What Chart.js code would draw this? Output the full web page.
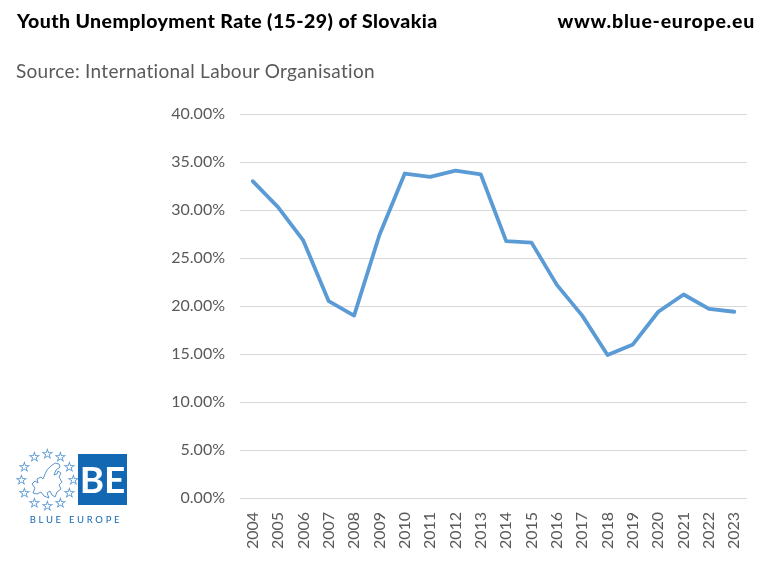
<!DOCTYPE html>
<html>
<head>
<meta charset="utf-8">
<script src="https://cdn.jsdelivr.net/npm/chart.js@4"></script>
<style>
  html, body { margin: 0; padding: 0; background: #fff; }
  #wrap { position: relative; width: 769px; height: 561px; overflow: hidden; font-family: Lato, sans-serif; }
  #chart { position: absolute; left: 0; top: 0; }
  .head { position: absolute; top: 9px; font-size: 19.5px; font-weight: 900; color: #000; white-space: nowrap; }
  #source { position: absolute; left: 16px; top: 59px; font-size: 19px; letter-spacing: 0.3px; color: #595959; white-space: nowrap; }
  #logo { position: absolute; left: 14px; top: 446px; }
</style>
</head>
<body>
<div id="wrap">
  <canvas id="chart" width="769" height="561"></canvas>
  <div class="head" style="left:17px; letter-spacing:0.42px">Youth Unemployment Rate (15-29) of Slovakia</div>
  <div class="head" style="right:14px; letter-spacing:0.75px">www.blue-europe.eu</div>
  <div id="source">Source: International Labour Organisation</div>
  <svg id="logo" width="118" height="82" viewBox="0 0 118 82">
    <g id="stars" fill="none" stroke="#5b9bd5" stroke-width="0.8" font-size="12" text-anchor="middle"></g>
    <path d="M18 38 L21 35 L24 37 L23 33 L27 31 L29 33 L31 28 L33 24 L37 20 L41 17 L45 18 L46 21 L42 24 L40 29 L43 28 L44 25 L47 27 L45 31 L48 36 L45 39 L47 43 L43 46 L41 51 L38 49 L36 45 L33 47 L35 52 L30 50 L27 46 L23 48 L19 47 L21 42 Z"
      fill="none" stroke="#4a8ac8" stroke-width="0.9"/>
    <rect x="64" y="8" width="49" height="51" fill="#1268b3"/>
    <text x="88.5" y="47" fill="#fff" font-size="37" font-weight="700" text-anchor="middle" font-family="Lato, sans-serif">BE</text>
    <text x="62" y="77" fill="#1268b3" font-size="9.5" letter-spacing="2.7" text-anchor="middle" font-family="Lato, sans-serif">BLUE EUROPE</text>
  </svg>
</div>
<script>
const years = ['2004', '2005', '2006', '2007', '2008', '2009', '2010', '2011', '2012', '2013',
  '2014', '2015', '2016', '2017', '2018', '2019', '2020', '2021', '2022', '2023'];
const unemployment = [33.0, 30.3, 26.8, 20.5, 19.0, 27.4, 33.8, 33.45, 34.1, 33.7,
  26.75, 26.6, 22.2, 19.0, 14.9, 16.0, 19.4, 21.2, 19.7, 19.4];

// ring of stars in the logo
const stars = document.getElementById('stars');
for (let i = 0; i < 12; i++) {
  const a = i * Math.PI / 6;
  const t = document.createElementNS('http://www.w3.org/2000/svg', 'text');
  t.setAttribute('x', 33 + 26 * Math.sin(a));
  t.setAttribute('y', 38 - 26 * Math.cos(a));
  t.textContent = '★';
  stars.appendChild(t);
}

const tickColor = '#595959';

new Chart(document.getElementById('chart').getContext('2d'), {
  type: 'line',
  data: {
    labels: years,
    datasets: [{
      data: unemployment,
      borderColor: '#5b9bd5',
      borderWidth: 3.8,
      pointRadius: 0,
      tension: 0,
      borderCapStyle: 'round',
      borderJoinStyle: 'round'
    }]
  },
  options: {
    responsive: false,
    animation: false,
    layout: { padding: { left: 160, top: 114, right: 22, bottom: 10 } },
    plugins: { legend: { display: false }, title: { display: false }, tooltip: { enabled: false } },
    scales: {
      x: {
        offset: true,
        grid: { display: false },
        border: { display: false },
        ticks: {
          autoSkip: false,
          minRotation: 90,
          maxRotation: 90,
          padding: 6,
          color: tickColor,
          font: { family: 'Lato, sans-serif', size: 16 }
        },
        afterFit: scale => { scale.height = 53; }
      },
      y: {
        min: 0,
        max: 40,
        grid: { color: '#d9d9d9', lineWidth: 1, drawTicks: false },
        border: { display: false },
        ticks: {
          stepSize: 5,
          padding: 15,
          color: tickColor,
          font: { family: 'Lato, sans-serif', size: 16 },
          callback: v => v.toFixed(2) + '%'
        },
        afterFit: scale => { scale.width = 80; }
      }
    }
  }
});
</script>
</body>
</html>
